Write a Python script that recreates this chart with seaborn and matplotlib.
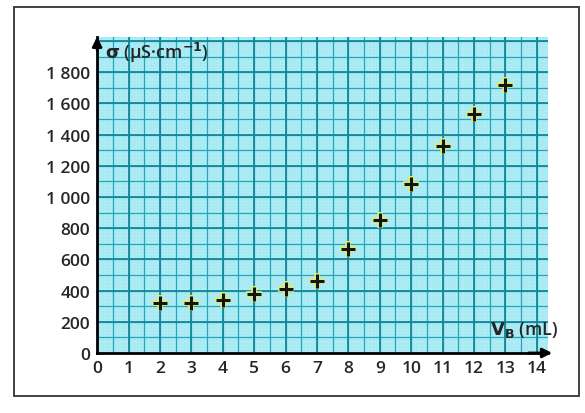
import matplotlib
matplotlib.use("Agg")
import matplotlib.pyplot as plt
from matplotlib.patches import Rectangle
import pandas as pd
import seaborn as sns

# values
volume_ml = [2, 3, 4, 5, 6, 7, 8, 9, 10, 11, 12, 13]
conductivity = [320, 320, 340, 375, 410, 460, 665, 855, 1080, 1325, 1530, 1715]
x_ticks = list(range(0, 15))
y_ticks = list(range(0, 2000, 200))
y_tick_labels = ["0", "200", "400", "600", "800", "1 000", "1 200", "1 400", "1 600", "1 800"]

df = pd.DataFrame({"V": volume_ml, "sigma": conductivity})

sns.set_style("white")
plt.rcParams["font.family"] = ["Open Sans", "DejaVu Sans"]
plt.rcParams["font.weight"] = "semibold"

fig = plt.figure(figsize=(5.85, 4.14), dpi=100)
ax = fig.add_axes([0.166, 0.145, 0.771, 0.763])
ax.set_facecolor("#b2eef7")

# graph paper grid
ax.set_xlim(0, 14.36)
ax.set_ylim(0, 2025)
for v in [i * 0.1 for i in range(1, 144)]:
    ax.axvline(v, color="#98e2ec", lw=0.3, zorder=0)
for v in range(20, 2025, 20):
    ax.axhline(v, color="#98e2ec", lw=0.3, zorder=0)
for v in [i * 0.5 for i in range(1, 29)]:
    ax.axvline(v, color="#22a6b8", lw=0.9, zorder=1)
for v in range(100, 2025, 100):
    ax.axhline(v, color="#22a6b8", lw=0.9, zorder=1)
for v in range(1, 15):
    ax.axvline(v, color="#13889a", lw=1.3, zorder=1)
for v in range(200, 2025, 200):
    ax.axhline(v, color="#13889a", lw=1.3, zorder=1)

# points: faint yellowish halo under black crosses
sns.scatterplot(data=df, x="V", y="sigma", marker="+", color="#dcef78",
                s=120, linewidth=4, ax=ax, zorder=3)
sns.scatterplot(data=df, x="V", y="sigma", marker="+", color="#151515",
                s=100, linewidth=2.2, ax=ax, zorder=4)

ax.set_xlabel("")
ax.set_ylabel("")
ax.set_xticks(x_ticks)
ax.set_xticklabels([str(t) for t in x_ticks])
ax.set_yticks(y_ticks)
ax.set_yticklabels(y_tick_labels)
ax.tick_params(axis="both", direction="inout", length=6, width=1.5, color="black",
               labelsize=12.5, pad=2)
ax.tick_params(axis="x", pad=2)

for s in ["top", "right"]:
    ax.spines[s].set_visible(False)
for s in ["left", "bottom"]:
    ax.spines[s].set_color("black")
    ax.spines[s].set_linewidth(2)
    ax.spines[s].set_zorder(5)

# axis arrows
ax.annotate("", xy=(0, 1.01), xytext=(0, 0.95), xycoords="axes fraction",
            arrowprops=dict(arrowstyle="-|>", color="black", lw=2, mutation_scale=14),
            annotation_clip=False, zorder=6)
ax.annotate("", xy=(1.015, 0), xytext=(0.95, 0), xycoords="axes fraction",
            arrowprops=dict(arrowstyle="-|>", color="black", lw=2, mutation_scale=14),
            annotation_clip=False, zorder=6)

# axis titles
ax.text(0.018, 0.99, r"$\mathbf{\sigma}$ (µS·cm$^{-1}$)", transform=ax.transAxes,
        fontsize=13, va="top", ha="left", zorder=6)
ax.text(0.87, 0.045, r"$\mathbf{V}_{\mathrm{B}}$ (mL)", transform=ax.transAxes,
        fontsize=13, va="bottom", ha="left", zorder=6)

# frame around the figure
fig.patches.append(Rectangle((0.024, 0.04), 0.966, 0.94, transform=fig.transFigure,
                             fill=False, edgecolor="#333333", lw=1.3))

fig.savefig("out.png", dpi=100)
